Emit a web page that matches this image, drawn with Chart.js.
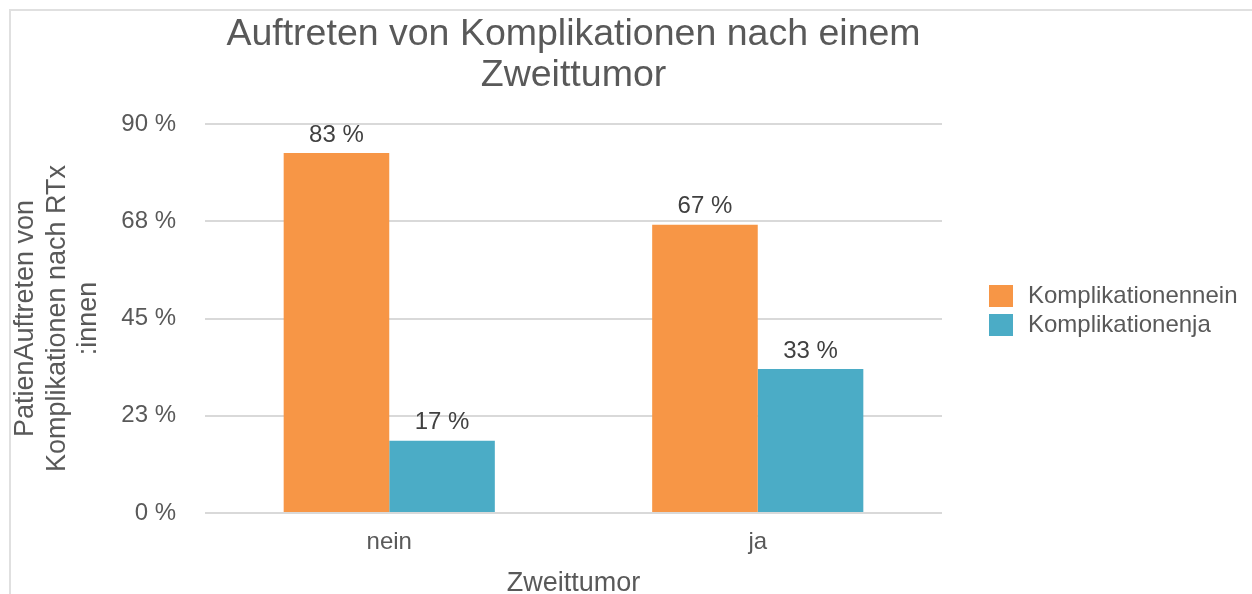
<!DOCTYPE html>
<html><head><meta charset="utf-8">
<style>
html,body{margin:0;padding:0;background:#fff;}
#wrap{position:relative;width:1252px;height:594px;overflow:hidden;}
#frame{position:absolute;left:9px;top:9px;width:1260px;height:600px;border-top:2px solid #e0e0e0;border-left:2px solid #e0e0e0;}
canvas{position:absolute;left:0;top:0;}
</style>
<script src="https://cdn.jsdelivr.net/npm/chart.js@4/dist/chart.umd.min.js"></script>
</head><body>
<div id="wrap"><div id="frame"></div><canvas id="c" width="1252" height="594"></canvas></div>
<script>
const categories = ['nein', 'ja'];
const seriesNames = ['Komplikationennein', 'Komplikationenja'];
const seriesColors = ['#F79646', '#4BACC6'];
const valuesKomplikationenNein = [83.3, 66.7];
const valuesKomplikationenJa = [16.7, 33.3];
const yTickValues = [0, 22.5, 45, 67.5, 90];
const yTickLabels = ['0 %', '23 %', '45 %', '68 %', '90 %'];
const titleLines = ['Auftreten von Komplikationen nach einem', 'Zweittumor'];
const yTitleLines = ['PatienAuftreten von', 'Komplikationen nach RTx', ':innen'];
const xTitle = 'Zweittumor';

const FONT = "'Liberation Sans', Arial, Helvetica, sans-serif";
const TXT = '#595959';

const titlePlugin = {
  id: 'centerTitle',
  afterDraw(chart) {
    const ctx = chart.ctx, a = chart.chartArea;
    ctx.save();
    ctx.font = '37.5px ' + FONT;
    ctx.fillStyle = TXT;
    ctx.textAlign = 'center';
    ctx.textBaseline = 'middle';
    const cx = (a.left + a.right) / 2;
    titleLines.forEach((t, i) => ctx.fillText(t, cx, 35 + i * 41));
    ctx.restore();
  }
};

const legendPlugin = {
  id: 'sideLegend',
  afterDraw(chart) {
    const ctx = chart.ctx, a = chart.chartArea;
    ctx.save();
    ctx.font = '24px ' + FONT;
    ctx.textBaseline = 'middle';
    ctx.textAlign = 'left';
    chart.data.datasets.forEach((ds, i) => {
      const y = 285 + i * 29;
      ctx.fillStyle = ds.backgroundColor;
      ctx.fillRect(a.right + 47, y, 24, 22);
      ctx.fillStyle = TXT;
      ctx.fillText(ds.label, a.right + 86, y + 11);
    });
    ctx.restore();
  }
};

const labelPlugin = {
  id: 'barLabels',
  afterDatasetsDraw(chart) {
    const ctx = chart.ctx;
    ctx.save();
    ctx.font = '24px ' + FONT;
    ctx.fillStyle = '#404040';
    ctx.textAlign = 'center';
    ctx.textBaseline = 'middle';
    chart.data.datasets.forEach((ds, di) => {
      chart.getDatasetMeta(di).data.forEach((bar, i) => {
        ctx.fillText(Math.round(ds.data[i]) + ' %', bar.x, bar.y - 18);
      });
    });
    ctx.restore();
  }
};

new Chart(document.getElementById('c'), {
  type: 'bar',
  data: {
    labels: categories,
    datasets: [
      { label: seriesNames[0], data: valuesKomplikationenNein, backgroundColor: seriesColors[0] },
      { label: seriesNames[1], data: valuesKomplikationenJa, backgroundColor: seriesColors[1] }
    ]
  },
  options: {
    responsive: false,
    animation: false,
    devicePixelRatio: 1,
    layout: { padding: { top: 124, right: 310, left: 0, bottom: 0 } },
    datasets: { bar: { categoryPercentage: 0.573, barPercentage: 1.0, borderWidth: 0 } },
    plugins: {
      legend: { display: false },
      title: { display: false },
      tooltip: { enabled: false }
    },
    scales: {
      x: {
        grid: { display: false, drawTicks: false },
        border: { display: false },
        ticks: { color: TXT, font: { family: FONT, size: 24 }, padding: 15 },
        title: { display: true, text: xTitle, color: TXT, font: { family: FONT, size: 27, lineHeight: 1.0 }, padding: { top: 0, bottom: -3 } },
        afterFit(s) { s.height = 81; }
      },
      y: {
        min: 0, max: 90,
        afterBuildTicks(s) { s.ticks = yTickValues.map(v => ({ value: v })); },
        grid: { color: '#d9d9d9', lineWidth: 2, drawTicks: false },
        border: { display: false },
        ticks: {
          color: TXT, font: { family: FONT, size: 24 }, padding: 29,
          callback: (v, i) => yTickLabels[i]
        },
        title: { display: true, text: yTitleLines, color: TXT, font: { family: FONT, size: 27, lineHeight: 1.167 }, padding: { top: 10, bottom: 0 } },
        afterFit(s) { s.width = 205; }
      }
    }
  },
  plugins: [titlePlugin, legendPlugin, labelPlugin]
});
</script>
</body></html>
